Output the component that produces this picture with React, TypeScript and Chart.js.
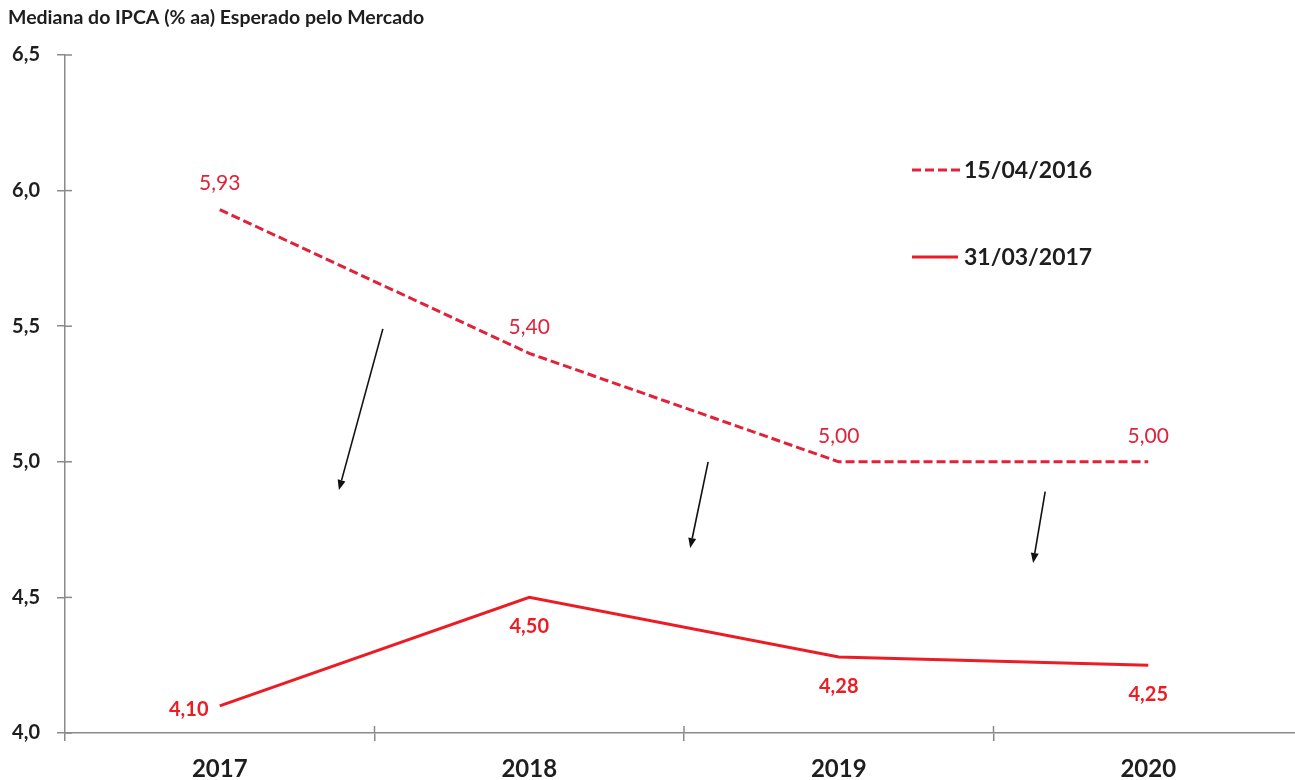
import React, { useEffect, useRef } from 'react';
import { Chart, registerables } from 'chart.js';

Chart.register(...registerables);

const TITLE = 'Mediana do IPCA (% aa) Esperado pelo Mercado';
const YEARS = ['2017', '2018', '2019', '2020'];
const SERIES_A_LABEL = '15/04/2016';
const SERIES_A = [5.93, 5.4, 5.0, 5.0];
const SERIES_B_LABEL = '31/03/2017';
const SERIES_B = [4.1, 4.5, 4.28, 4.25];
const Y_MIN = 4.0;
const Y_MAX = 6.5;
const Y_STEP = 0.5;
// annotation arrows in data units (category index, value)
const ARROW_FROM_X = [0.527, 1.578, 2.667];
const ARROW_FROM_Y = [5.49, 5.0, 4.89];
const ARROW_TO_X = [0.385, 1.52, 2.628];
const ARROW_TO_Y = [4.896, 4.682, 4.627];

const FONT = 'Lato, "Open Sans", "DejaVu Sans", sans-serif';
const COLOR_A = '#e0223a';
const COLOR_B = '#ec1c24';
const AXIS_COLOR = '#8a8a8a';
const TEXT_COLOR = '#1e1e1e';
const B_LABEL_PLACE = ['left', 'below', 'below', 'below'];

const fmt = (v: number, d: number) => v.toFixed(d).replace('.', ',');

export default function App() {
  const ref = useRef<HTMLCanvasElement | null>(null);

  useEffect(() => {
    if (!ref.current) return;

    const decorPlugin = {
      id: 'decor',
      afterDraw(chart: any) {
        const ctx = chart.ctx;
        const xs = chart.scales.x;
        const ys = chart.scales.y;
        const area = chart.chartArea;
        ctx.save();
        // inner tick halves (crossing ticks)
        ctx.strokeStyle = AXIS_COLOR;
        ctx.lineWidth = 1.5;
        ys.ticks.forEach((t: any) => {
          const py = ys.getPixelForValue(t.value);
          ctx.beginPath();
          ctx.moveTo(area.left, py);
          ctx.lineTo(area.left + 7, py);
          ctx.stroke();
        });
        for (let i = 0; i < YEARS.length - 1; i++) {
          const px = xs.getPixelForValue(i + 0.5);
          ctx.beginPath();
          ctx.moveTo(px, area.bottom - 7);
          ctx.lineTo(px, area.bottom);
          ctx.stroke();
        }

        // data labels
        ctx.textAlign = 'center';
        ctx.textBaseline = 'middle';
        const metaA = chart.getDatasetMeta(0);
        ctx.font = `21px ${FONT}`;
        ctx.fillStyle = COLOR_A;
        metaA.data.forEach((pt: any, i: number) => {
          ctx.fillText(fmt(SERIES_A[i], 2), pt.x, pt.y - 26);
        });
        const metaB = chart.getDatasetMeta(1);
        ctx.font = `bold 20px ${FONT}`;
        ctx.fillStyle = COLOR_B;
        metaB.data.forEach((pt: any, i: number) => {
          if (B_LABEL_PLACE[i] === 'left') {
            ctx.fillText(fmt(SERIES_B[i], 2), pt.x - 31, pt.y + 4);
          } else {
            ctx.fillText(fmt(SERIES_B[i], 2), pt.x, pt.y + 29);
          }
        });

        // arrows
        ctx.strokeStyle = '#111';
        ctx.fillStyle = '#111';
        ctx.lineWidth = 1.6;
        for (let i = 0; i < ARROW_FROM_X.length; i++) {
          const x1 = xs.getPixelForValue(ARROW_FROM_X[i]);
          const y1 = ys.getPixelForValue(ARROW_FROM_Y[i]);
          const x2 = xs.getPixelForValue(ARROW_TO_X[i]);
          const y2 = ys.getPixelForValue(ARROW_TO_Y[i]);
          const ang = Math.atan2(y2 - y1, x2 - x1);
          const hl = 10;
          const hw = 4;
          const bx = x2 - hl * Math.cos(ang);
          const by = y2 - hl * Math.sin(ang);
          ctx.beginPath();
          ctx.moveTo(x1, y1);
          ctx.lineTo(bx, by);
          ctx.stroke();
          ctx.beginPath();
          ctx.moveTo(x2, y2);
          ctx.lineTo(bx + hw * Math.sin(ang), by - hw * Math.cos(ang));
          ctx.lineTo(bx - hw * Math.sin(ang), by + hw * Math.cos(ang));
          ctx.closePath();
          ctx.fill();
        }

        // legend
        const lx = 912;
        const entries = [
          { label: SERIES_A_LABEL, color: COLOR_A, dash: [9, 4], y: 170, len: 48 },
          { label: SERIES_B_LABEL, color: COLOR_B, dash: [], y: 257, len: 46 },
        ];
        entries.forEach((e) => {
          ctx.strokeStyle = e.color;
          ctx.lineWidth = 3;
          ctx.setLineDash(e.dash);
          ctx.beginPath();
          ctx.moveTo(lx, e.y);
          ctx.lineTo(lx + e.len, e.y);
          ctx.stroke();
          ctx.setLineDash([]);
          ctx.font = `bold 23px ${FONT}`;
          ctx.fillStyle = TEXT_COLOR;
          ctx.textAlign = 'left';
          ctx.textBaseline = 'middle';
          ctx.fillText(e.label, lx + 52, e.y + 1);
        });
        ctx.restore();
      },
    };

    const chart = new Chart(ref.current, {
      type: 'line',
      data: {
        labels: YEARS,
        datasets: [
          {
            label: SERIES_A_LABEL,
            data: SERIES_A,
            borderColor: COLOR_A,
            borderWidth: 3,
            borderDash: [9, 4],
            pointRadius: 0,
            fill: false,
            tension: 0,
          },
          {
            label: SERIES_B_LABEL,
            data: SERIES_B,
            borderColor: COLOR_B,
            borderWidth: 3,
            pointRadius: 0,
            fill: false,
            tension: 0,
          },
        ],
      },
      options: {
        responsive: false,
        animation: false,
        layout: { padding: { left: 8, right: 2, top: 0, bottom: 0 } },
        plugins: {
          legend: { display: false },
          tooltip: { enabled: false },
          title: {
            display: true,
            text: TITLE,
            align: 'start',
            color: TEXT_COLOR,
            font: { family: FONT, size: 19.5, weight: 'bold' },
            padding: { top: 6, bottom: 25.6 },
          },
        },
        scales: {
          x: {
            type: 'category',
            offset: true,
            grid: {
              offset: true,
              drawOnChartArea: false,
              drawTicks: true,
              tickLength: 8,
              color: AXIS_COLOR,
              lineWidth: 1.5,
            },
            border: { display: true, color: AXIS_COLOR, width: 1.5 },
            ticks: {
              color: TEXT_COLOR,
              padding: 14,
              font: { family: FONT, size: 24, weight: 'bold' },
              maxRotation: 0,
            },
            afterFit: (s: any) => {
              s.height = 47;
            },
          },
          y: {
            min: Y_MIN,
            max: Y_MAX,
            grid: {
              drawOnChartArea: false,
              drawTicks: true,
              tickLength: 8,
              color: AXIS_COLOR,
              lineWidth: 1.5,
            },
            border: { display: true, color: AXIS_COLOR, width: 1.5 },
            ticks: {
              stepSize: Y_STEP,
              color: TEXT_COLOR,
              padding: 17,
              font: { family: FONT, size: 20, weight: 'bold' },
              callback: (v: any) => fmt(Number(v), 1),
            },
            afterFit: (s: any) => {
              s.width = 57;
            },
          },
        },
      },
      plugins: [decorPlugin],
    });

    return () => chart.destroy();
  }, []);

  return (
    <div
      style={{
        position: 'absolute',
        left: 0,
        top: 0,
        width: 1295,
        height: 780,
        overflow: 'hidden',
        background: '#fff',
      }}
    >
      <canvas ref={ref} width={1305} height={780} style={{ width: 1305, height: 780, display: 'block' }} />
    </div>
  );
}
